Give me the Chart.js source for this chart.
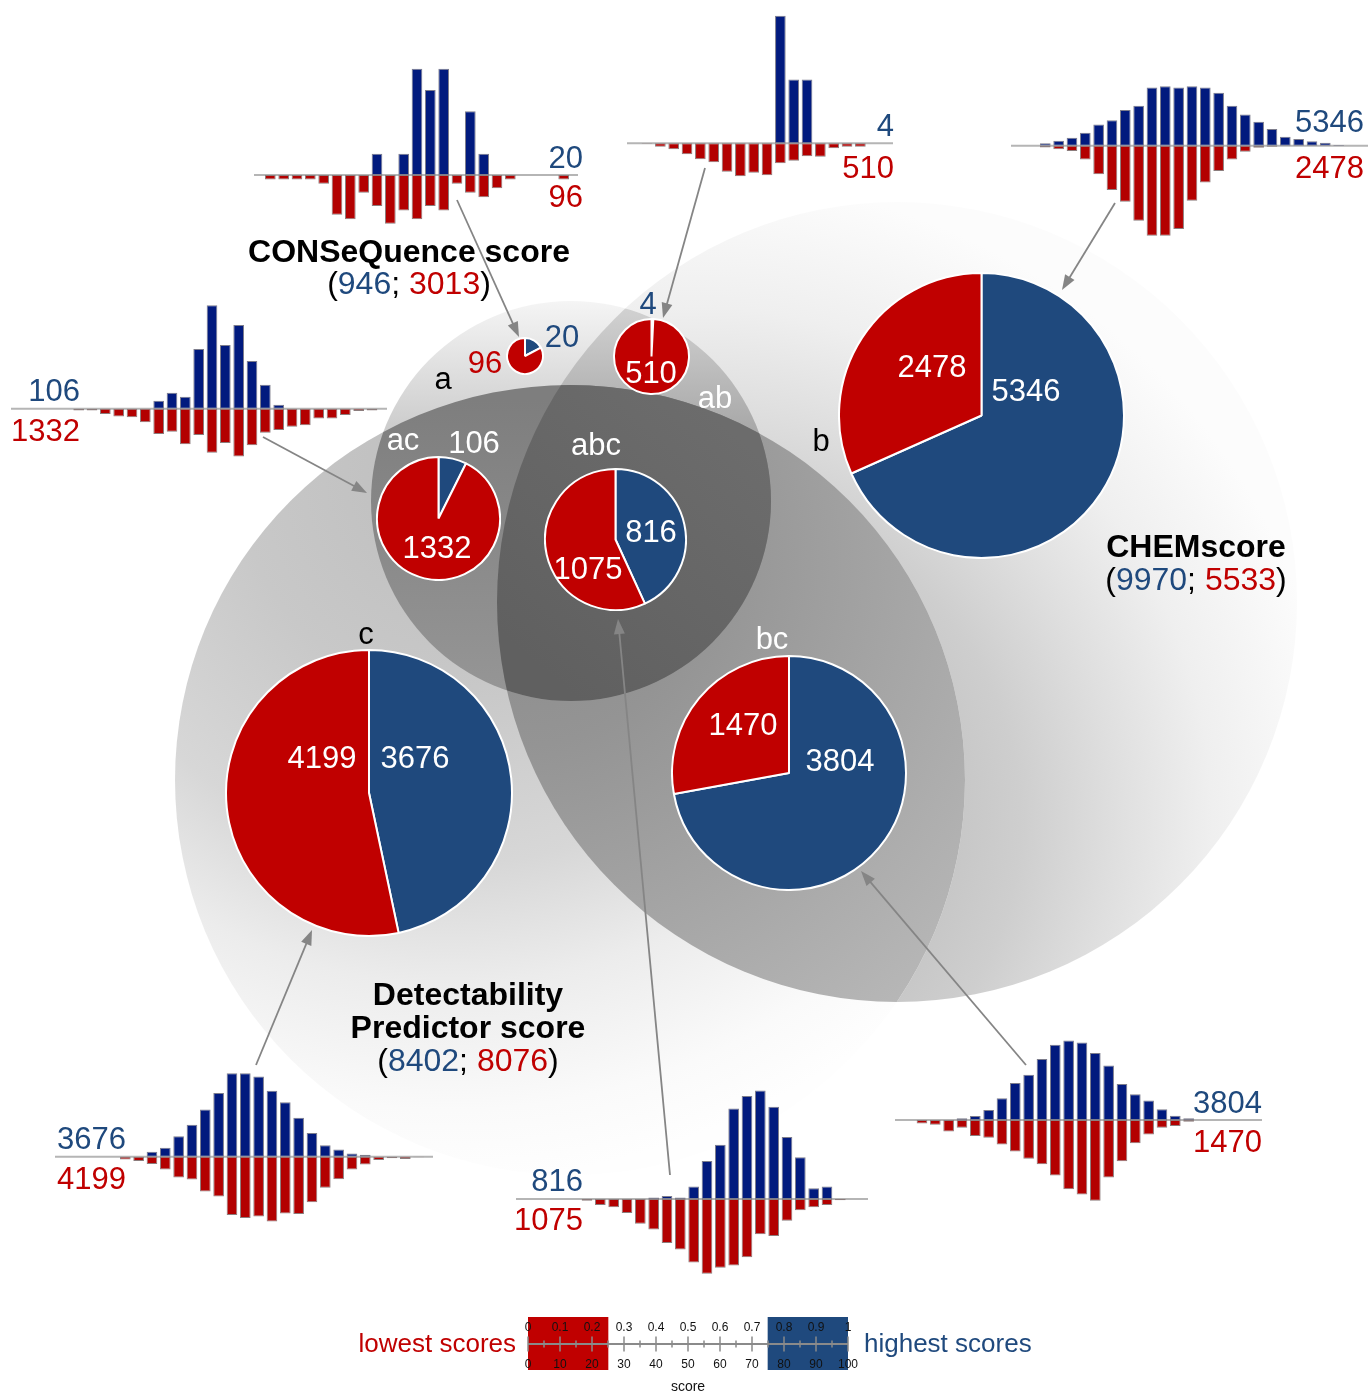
<!DOCTYPE html>
<html>
<head>
<meta charset="utf-8">
<title>Score distributions across three predictors</title>
<script src="https://cdn.jsdelivr.net/npm/chart.js@4.4.1/dist/chart.umd.min.js"></script>
<style>
  html, body { margin: 0; padding: 0; background: #ffffff; }
  #stage { position: relative; width: 1369px; height: 1396px; overflow: hidden; background: #ffffff; }
  #stage canvas { position: absolute; pointer-events: none; }
</style>
</head>
<body>
<div id="stage"></div>
<script>
// ---------------- data ----------------
// Overlap regions: a = CONSeQuence score, b = CHEMscore, c = Detectability Predictor score
const regions    = ['a', 'ab', 'b', 'ac', 'abc', 'c', 'bc'];
const highCounts = [20, 4, 5346, 106, 816, 3676, 3804];     // compounds with highest scores
const lowCounts  = [96, 510, 2478, 1332, 1075, 4199, 1470];  // compounds with lowest scores

const setKeys   = ['a', 'b', 'c'];
const setTitles = [['CONSeQuence score'], ['CHEMscore'], ['Detectability', 'Predictor score']];

// Score histograms per region (counts per score bin), highest-score class
const histHigh_a   = [0,0,0,0,0,0,0,0,1,0,1,5,4,5,0,3,1,0,0,0,0,0,0];
const histHigh_ab  = [0,0,0,0,0,0,0,0,0,0,2,1,1,0,0,0,0];
const histHigh_b   = [0,0,20,42,67,110,180,216,301,337,492,503,492,503,492,447,337,264,202,141,76,56,37,25,6];
const histHigh_ac  = [0,0,0,0,0,0,0,2,4,3,15,26,16,21,12,6,1,0,0,0,0,0,0,0];
const histHigh_abc = [0,0,0,0,0,0,0,2,4,2,16,49,70,117,133,140,119,80,54,14,16,0];
const histHigh_c   = [0,0,0,0,29,52,119,186,275,371,485,486,467,384,317,227,138,67,42,19,12,0,0,0,0];
const histHigh_bc  = [0,0,0,0,10,24,60,131,222,272,367,453,479,467,403,328,216,155,117,64,26,10];

// Score histograms per region (counts per score bin), lowest-score class
const histLow_a   = [1,1,1,1,2,9,10,4,7,11,8,10,7,8,2,4,5,3,1,0,0,0,1];
const histLow_ab  = [1,7,12,22,32,38,57,66,59,64,40,35,26,27,10,7,7];
const histLow_b   = [0,0,7,14,21,54,112,174,220,294,353,353,327,216,144,99,54,24,8,4,0,0,0,0,0];
const histLow_ac  = [0,6,6,17,25,27,43,80,73,112,83,139,108,151,115,76,67,57,52,31,31,20,7,6];
const histLow_abc = [0,0,3,10,14,24,42,52,75,86,108,127,117,113,99,60,63,37,19,14,10,2];
const histLow_c   = [0,0,18,29,49,85,139,152,231,265,388,408,397,431,377,381,303,206,150,85,52,22,11,16,4];
const histLow_bc  = [0,8,11,27,18,37,41,57,73,90,103,129,161,173,188,134,96,54,34,18,14,4];

const histHigh = { a: histHigh_a, ab: histHigh_ab, b: histHigh_b, ac: histHigh_ac, abc: histHigh_abc, c: histHigh_c, bc: histHigh_bc };
const histLow  = { a: histLow_a,  ab: histLow_ab,  b: histLow_b,  ac: histLow_ac,  abc: histLow_abc,  c: histLow_c,  bc: histLow_bc };

// Score scale key
const scorePercentTicks  = [0, 10, 20, 30, 40, 50, 60, 70, 80, 90, 100];
const scoreFractionTicks = ['0', '0.1', '0.2', '0.3', '0.4', '0.5', '0.6', '0.7', '0.8', '0.9', '1'];
const lowBand  = [0, 25];
const highBand = [75, 100];

// ---------------- styling & layout ----------------
const W = 1369, H = 1396;
const BLUE = '#1f497d', RED = '#c00000';
const BAR_BLUE = '#011a7e', BAR_RED = '#b30000';
const FONT = '"Liberation Sans", Arial, Helvetica, sans-serif';
const BIG = 31;
const TITLE = 32;

Chart.defaults.font.family = FONT;

const vennSets = {
  a: { x: 571, y: 501, r: 200 },
  b: { x: 897, y: 602, r: 400 },
  c: { x: 570, y: 780, r: 395 }
};

const pieLayout = {
  a:   { cx: 524.7, cy: 355.5, hi: [562, 347, BLUE],     lo: [485, 373, RED] },
  ab:  { cx: 651.7, cy: 356.7, hi: [648, 314, BLUE],     lo: [651, 383, '#fff'] },
  b:   { cx: 981,   cy: 415.5, hi: [1026, 401, '#fff'],  lo: [932, 377, '#fff'] },
  ac:  { cx: 438.3, cy: 518.3, hi: [474, 453, '#fff'],  lo: [437, 558, '#fff'] },
  abc: { cx: 615.5, cy: 539,   hi: [651, 542, '#fff'],  lo: [588, 579, '#fff'] },
  c:   { cx: 369.2, cy: 793.3, hi: [415, 768, '#fff'],  lo: [322, 768, '#fff'] },
  bc:  { cx: 789,   cy: 772.5, hi: [840, 771, '#fff'],  lo: [743, 735, '#fff'] }
};

const histLayout = {
  a:   { base: 175,    bin0: 265,    axisL: 254,  axisR: 578,  scale: 425, labelX: 583,  hiDy: -7,  loDy: 32 },
  ab:  { base: 143.3,  bin0: 641.7,  axisL: 627,  axisR: 893,  scale: 255, labelX: 894,  hiDy: -7,  loDy: 35 },
  b:   { base: 145.7,  bin0: 1013.3, axisL: 1011, axisR: 1368, scale: 632, labelX: 1364, hiDy: -14, loDy: 32 },
  ac:  { base: 408.7,  bin0: 60,     axisL: 11,   axisR: 387,  scale: 422, labelX: 80,   hiDy: -8,  loDy: 32 },
  abc: { base: 1199,   bin0: 555,    axisL: 516,  axisR: 868,  scale: 632, labelX: 583,  hiDy: -8,  loDy: 31 },
  c:   { base: 1156.7, bin0: 93.3,   axisL: 55,   axisR: 433,  scale: 632, labelX: 126,  hiDy: -8,  loDy: 32 },
  bc:  { base: 1120,   bin0: 903.3,  axisL: 895,  axisR: 1262, scale: 632, labelX: 1262, hiDy: -7,  loDy: 32 }
};
const BIN_PITCH = 40 / 3;

const arrowLayout = {
  a:   [457, 200, 519, 337],
  ab:  [705, 168, 663, 318],
  b:   [1115, 203, 1062, 290],
  ac:  [263, 437, 367, 493],
  abc: [670, 1175, 618, 619],
  c:   [256, 1065, 312, 930],
  bc:  [1026, 1065, 861, 871]
};

const regionLetters = {
  a:   [443, 389, '#000'], b:   [821, 451, '#000'], c:  [366, 644, '#000'],
  ab:  [715, 408, '#fff'], ac:  [403, 450, '#fff'], abc: [596, 455, '#fff'], bc: [772, 649, '#fff']
};

const titleLayout = [
  { x: 409,  y: [262], countsY: 294 },
  { x: 1196, y: [557], countsY: 590 },
  { x: 468,  y: [1005, 1038], countsY: 1071 }
];

// ---------------- helpers ----------------
const stage = document.getElementById('stage');
const sum = arr => arr.reduce((s, v) => s + v, 0);

function addCanvas(x, y, w, h, z) {
  const c = document.createElement('canvas');
  c.width = w; c.height = h;
  c.style.left = x + 'px'; c.style.top = y + 'px';
  c.style.width = w + 'px'; c.style.height = h + 'px';
  c.style.zIndex = z;
  stage.appendChild(c);
  return c;
}

const quiet = { legend: { display: false }, tooltip: { enabled: false } };

// Full-page chart whose linear scales map page coordinates to pixels
function pageChart(z, hook, drawFn) {
  const cv = addCanvas(0, 0, W, H, z);
  return new Chart(cv, {
    type: 'scatter',
    data: { datasets: [] },
    options: {
      responsive: false, animation: false, events: [], devicePixelRatio: 1,
      layout: { padding: 0 },
      scales: {
        x: { type: 'linear', min: 0, max: W, display: false },
        y: { type: 'linear', min: 0, max: H, reverse: true, display: false }
      },
      plugins: quiet
    },
    plugins: [{ id: 'page' + z, [hook]: chart => drawFn(chart) }]
  });
}

// ---------------- background: overlapping sets ----------------
pageChart(1, 'beforeDraw', chart => {
  const ctx = chart.ctx;
  const sx = v => chart.scales.x.getPixelForValue(v);
  const sy = v => chart.scales.y.getPixelForValue(v);
  const gray = v => `rgb(${v},${v},${v})`;
  const circ = k => {
    const s = vennSets[k];
    ctx.beginPath();
    ctx.arc(sx(s.x), sy(s.y), sx(s.x + s.r) - sx(s.x), 0, Math.PI * 2);
  };
  const radial = (x, y, r, stops) => {
    const g = ctx.createRadialGradient(sx(x), sy(y), 0, sx(x), sy(y), r);
    stops.forEach(([t, v]) => g.addColorStop(t, gray(v)));
    return g;
  };
  const linear = (x0, y0, x1, y1, stops) => {
    const g = ctx.createLinearGradient(sx(x0), sy(y0), sx(x1), sy(y1));
    stops.forEach(([t, v]) => g.addColorStop(t, gray(v)));
    return g;
  };
  const paint = (keys, fill) => {
    ctx.save();
    keys.forEach(k => { circ(k); ctx.clip(); });
    ctx.fillStyle = fill;
    ctx.fillRect(0, 0, chart.width, chart.height);
    ctx.restore();
  };
  // single sets, then pairwise overlaps, then the triple overlap on top
  paint(['b'], radial(700, 820, 640, [[0, 170], [0.5, 206], [0.65, 223], [0.8, 239], [1, 252]]));
  paint(['c'], radial(450, 480, 700, [[0, 190], [0.3, 200], [0.55, 215], [0.72, 236], [0.9, 250], [1, 254]]));
  paint(['a'], linear(0, 300, 0, 450, [[0, 245], [1, 198]]));
  paint(['b', 'c'], radial(520, 560, 620, [[0, 138], [0.3, 148], [1, 186]]));
  paint(['a', 'b'], linear(0, 300, 0, 460, [[0, 212], [1, 158]]));
  paint(['a', 'c'], linear(0, 400, 0, 700, [[0, 126], [1, 150]]));
  paint(['a', 'b', 'c'], linear(520, 650, 720, 420, [[0, 96], [1, 108]]));
});

// ---------------- pies ----------------
regions.forEach((key, i) => {
  const L = pieLayout[key];
  const n = highCounts[i] + lowCounts[i];
  const r = 1.6 * Math.sqrt(n) + 1;
  const S = Math.round(2 * r + 2);
  const cv = addCanvas(Math.round(L.cx - S / 2), Math.round(L.cy - S / 2), S, S, 5);
  new Chart(cv, {
    type: 'pie',
    data: {
      labels: ['highest scores', 'lowest scores'],
      datasets: [{
        data: [highCounts[i], lowCounts[i]],
        backgroundColor: [BLUE, RED],
        borderColor: '#ffffff',
        borderWidth: 2
      }]
    },
    options: {
      responsive: false, animation: false, events: [], devicePixelRatio: 1,
      layout: { padding: 0 },
      plugins: quiet
    }
  });
});

// ---------------- mirrored score histograms ----------------
const baselinePlugin = {
  id: 'baseline',
  beforeDatasetsDraw(chart) {
    const ctx = chart.ctx;
    const y0 = chart.scales.y.getPixelForValue(0);
    ctx.save();
    ctx.strokeStyle = '#b5b5b5';
    ctx.lineWidth = 2;
    ctx.beginPath();
    ctx.moveTo(0, y0);
    ctx.lineTo(chart.width, y0);
    ctx.stroke();
    ctx.restore();
  }
};

regions.forEach(key => {
  const L = histLayout[key];
  const hi = histHigh[key], lo = histLow[key];
  const nHi = sum(hi), nLo = sum(lo);
  const fracHi = hi.map(v => v / nHi);
  const fracLo = lo.map(v => -v / nLo);
  const upPx = Math.max(...fracHi) * L.scale + 4;
  const downPx = Math.max(...fracLo.map(Math.abs)) * L.scale + 4;
  const left = Math.round(L.axisL);
  const width = Math.round(L.axisR - L.axisL);
  const top = Math.round(L.base - upPx);
  const height = Math.round(L.base + downPx) - top;
  const areaLeft = L.bin0 - BIN_PITCH * 0.1;
  const areaRight = areaLeft + hi.length * BIN_PITCH;
  const cv = addCanvas(left, top, width, height, 4);
  new Chart(cv, {
    type: 'bar',
    data: {
      labels: hi.map((_, j) => String(j)),
      datasets: [
        { data: fracHi, backgroundColor: BAR_BLUE, borderColor: '#7d7d8c', borderWidth: 1, borderSkipped: false,
          barPercentage: 0.8, categoryPercentage: 1 },
        { data: fracLo, backgroundColor: BAR_RED, borderColor: '#8c7d7d', borderWidth: 1, borderSkipped: false,
          barPercentage: 0.8, categoryPercentage: 1 }
      ]
    },
    options: {
      responsive: false, animation: false, events: [], devicePixelRatio: 1,
      layout: { padding: { left: areaLeft - left, right: left + width - areaRight, top: 0, bottom: 0 } },
      scales: {
        x: { stacked: true, display: false },
        y: { stacked: true, display: false, min: -(top + height - L.base) / L.scale, max: (L.base - top) / L.scale }
      },
      plugins: quiet
    },
    plugins: [baselinePlugin]
  });
});

// ---------------- score key ----------------
(function () {
  const left = 330, top = 1300, w = 740, h = 96;
  const area = { l: 528, r: 848, t: 1317, b: 1370 };
  const cv = addCanvas(left, top, w, h, 6);
  new Chart(cv, {
    type: 'bar',
    data: {
      labels: ['score'],
      datasets: [
        { data: [lowBand], backgroundColor: RED, barPercentage: 1, categoryPercentage: 1 },
        { data: [highBand], backgroundColor: BLUE, barPercentage: 1, categoryPercentage: 1 }
      ]
    },
    options: {
      indexAxis: 'y',
      responsive: false, animation: false, events: [], devicePixelRatio: 1,
      layout: { padding: { left: area.l - left, right: left + w - area.r, top: area.t - top, bottom: top + h - area.b } },
      datasets: { bar: { grouped: false } },
      scales: {
        x: { type: 'linear', min: 0, max: 100, display: false },
        y: { display: false }
      },
      plugins: quiet
    },
    plugins: [{
      id: 'scoreKey',
      afterDatasetsDraw(chart) {
        const ctx = chart.ctx;
        const xs = chart.scales.x;
        const yMid = 1344 - top;
        ctx.save();
        ctx.strokeStyle = '#8a8a8a';
        ctx.lineWidth = 2;
        ctx.beginPath();
        ctx.moveTo(xs.getPixelForValue(0), yMid);
        ctx.lineTo(xs.getPixelForValue(100), yMid);
        ctx.stroke();
        ctx.lineWidth = 1.5;
        for (let v = 0; v <= 100; v += 5) {
          const x = xs.getPixelForValue(v);
          const t = v % 10 === 0 ? 7.5 : 3.5;
          ctx.beginPath();
          ctx.moveTo(x, yMid - t);
          ctx.lineTo(x, yMid + t);
          ctx.stroke();
        }
        ctx.fillStyle = '#111';
        ctx.font = '12px ' + FONT;
        ctx.textAlign = 'center';
        ctx.textBaseline = 'alphabetic';
        scorePercentTicks.forEach((v, j) => {
          const x = xs.getPixelForValue(v);
          ctx.fillText(scoreFractionTicks[j], x, 1331 - top);
          ctx.fillText(String(v), x, 1367.5 - top);
        });
        ctx.font = '14px ' + FONT;
        ctx.fillText('score', xs.getPixelForValue(50), 1391 - top);
        ctx.font = '26px ' + FONT;
        ctx.textAlign = 'right';
        ctx.fillStyle = RED;
        ctx.fillText('lowest scores', 516 - left, 1352 - top);
        ctx.textAlign = 'left';
        ctx.fillStyle = BLUE;
        ctx.fillText('highest scores', 864 - left, 1352 - top);
        ctx.restore();
      }
    }]
  });
})();

// ---------------- foreground: arrows and text ----------------
pageChart(10, 'afterDraw', chart => {
  const ctx = chart.ctx;
  const sx = v => chart.scales.x.getPixelForValue(v);
  const sy = v => chart.scales.y.getPixelForValue(v);

  // arrows from each histogram to its pie
  ctx.save();
  ctx.strokeStyle = '#858585';
  ctx.fillStyle = '#858585';
  ctx.lineWidth = 1.8;
  regions.forEach(key => {
    const [x0, y0, x1, y1] = arrowLayout[key];
    const ax = sx(x0), ay = sy(y0), bx = sx(x1), by = sy(y1);
    const len = Math.hypot(bx - ax, by - ay);
    const ux = (bx - ax) / len, uy = (by - ay) / len;
    const head = 15, half = 5.5;
    ctx.beginPath();
    ctx.moveTo(ax, ay);
    ctx.lineTo(bx - ux * head * 0.8, by - uy * head * 0.8);
    ctx.stroke();
    ctx.beginPath();
    ctx.moveTo(bx, by);
    ctx.lineTo(bx - ux * head - uy * half, by - uy * head + ux * half);
    ctx.lineTo(bx - ux * head + uy * half, by - uy * head - ux * half);
    ctx.closePath();
    ctx.fill();
  });
  ctx.restore();

  const text = (s, x, y, color, align, font) => {
    ctx.font = font || (BIG + 'px ' + FONT);
    ctx.fillStyle = color;
    ctx.textAlign = align || 'center';
    ctx.textBaseline = 'alphabetic';
    ctx.fillText(s, sx(x), sy(y));
  };

  ctx.save();
  // region letters
  Object.keys(regionLetters).forEach(k => {
    const [x, y, col] = regionLetters[k];
    text(k, x, y, col);
  });

  // pie counts and histogram counts
  regions.forEach((key, i) => {
    const P = pieLayout[key];
    text(String(highCounts[i]), P.hi[0], P.hi[1], P.hi[2]);
    text(String(lowCounts[i]), P.lo[0], P.lo[1], P.lo[2]);
    const L = histLayout[key];
    text(String(highCounts[i]), L.labelX, L.base + L.hiDy, BLUE, 'right');
    text(String(lowCounts[i]), L.labelX, L.base + L.loDy, RED, 'right');
  });

  // set titles with their totals (highest; lowest)
  setKeys.forEach((k, s) => {
    const T = titleLayout[s];
    setTitles[s].forEach((line, j) => text(line, T.x, T.y[j], '#000', 'center', 'bold ' + TITLE + 'px ' + FONT));
    let hiTot = 0, loTot = 0;
    regions.forEach((r, i) => { if (r.includes(k)) { hiTot += highCounts[i]; loTot += lowCounts[i]; } });
    const parts = [['(', '#000'], [String(hiTot), BLUE], ['; ', '#000'], [String(loTot), RED], [')', '#000']];
    ctx.font = TITLE + 'px ' + FONT;
    const total = parts.reduce((w, p) => w + ctx.measureText(p[0]).width, 0);
    let x = sx(T.x) - total / 2;
    parts.forEach(([s, col]) => {
      ctx.fillStyle = col;
      ctx.textAlign = 'left';
      ctx.fillText(s, x, sy(T.countsY));
      x += ctx.measureText(s).width;
    });
  });
  ctx.restore();
});
</script>
</body>
</html>
